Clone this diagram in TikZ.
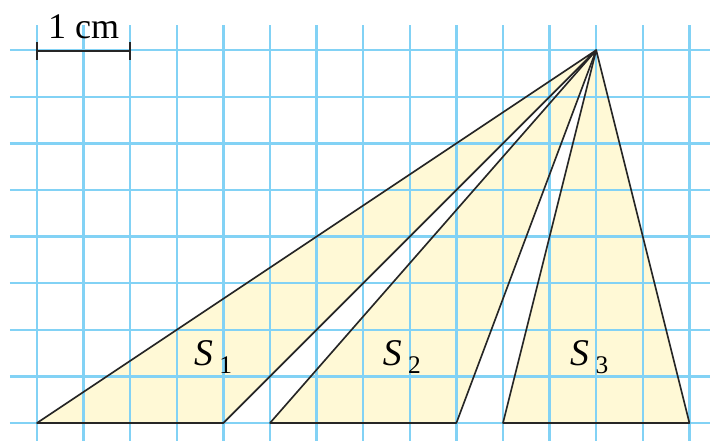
\documentclass[tikz,border=0pt]{standalone}
\usepackage{fontspec}
\setmainfont{Liberation Serif}
\usepackage{xcolor}
\usepackage{tikz}
\usetikzlibrary{calc}

\definecolor{gridblue}{RGB}{130,210,245}
\definecolor{areafill}{RGB}{255,249,214}

\begin{document}
\begin{tikzpicture}[
  gridline/.style={gridblue, line width=1.5pt},
  edge/.style={black!85, line width=1pt, line join=round},
  area/.style={font=\fontsize{23}{26}\selectfont, inner sep=0pt}
]
\useasboundingbox (-0.794,-0.386) rectangle (14.442,9.077);
\coordinate (apex) at (12,8);
\coordinate (a0) at (0,0);
\coordinate (a1) at (4,0);
\coordinate (b0) at (5,0);
\coordinate (b1) at (9,0);
\coordinate (c0) at (10,0);
\coordinate (c1) at (14,0);
% shaded triangles
\fill[areafill] (a0) -- (a1) -- (apex) -- cycle;
\fill[areafill] (b0) -- (b1) -- (apex) -- cycle;
\fill[areafill] (c0) -- (c1) -- (apex) -- cycle;
% grid paper
\foreach \x in {0,...,14}
  \draw[gridline] (\x,-0.4) -- (\x,8.54);
\foreach \y in {0,...,8}
  \draw[gridline] (-0.58,\y) -- (14.45,\y);
% outlines
\draw[edge] (a0) -- (a1) -- (apex) -- cycle;
\draw[edge] (b0) -- (b1) -- (apex) -- cycle;
\draw[edge] (c0) -- (c1) -- (apex) -- cycle;
% scale bar
\coordinate (bar0) at (0,7.98);
\coordinate (bar1) at (2,7.98);
\draw[edge] (bar0) -- (bar1);
\draw[edge] ($(bar0)+(0,0.2)$) -- ($(bar0)+(0,-0.2)$);
\draw[edge] ($(bar1)+(0,0.2)$) -- ($(bar1)+(0,-0.2)$);
\node[font=\fontsize{22}{26}\selectfont, anchor=base, inner sep=0pt] (unit) at (1.0,8.26) {1 cm};
% labels
\node[area] (s1) at (3.78,1.42) {\textit{S}\kern4pt\raisebox{-5pt}{\fontsize{15.5}{18}\selectfont 1}};
\node[area] (s2) at (7.83,1.42) {\textit{S}\kern4pt\raisebox{-5pt}{\fontsize{15.5}{18}\selectfont 2}};
\node[area] (s3) at (11.85,1.42) {\textit{S}\kern4pt\raisebox{-5pt}{\fontsize{15.5}{18}\selectfont 3}};
\end{tikzpicture}
\end{document}
